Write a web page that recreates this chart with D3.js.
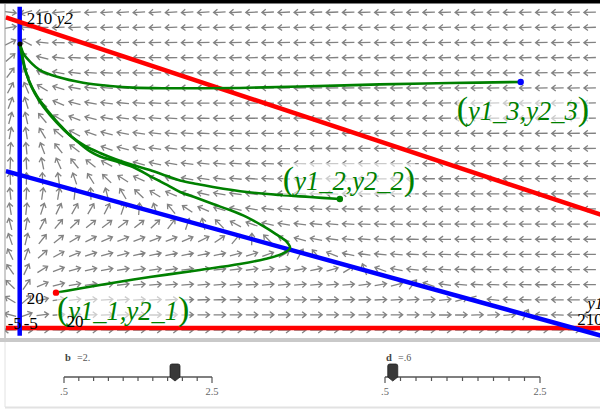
<!DOCTYPE html>
<html>
<head>
<meta charset="utf-8">
<script src="https://cdn.jsdelivr.net/npm/d3@7"></script>
<style>
body{margin:0;background:#fff;}
svg{display:block;}
</style>
</head>
<body>
<svg id="chart" width="600" height="410"></svg>
<script>
// slider values and model constants
const b = 2, d = 0.6;
const capacity1 = 200, capacity2 = 200;
const rateRatio = 0.18;
const windowX = [-5, 210], windowY = [-5, 210];
const sliderRange = [0.5, 2.5];
const sliderTicks = d3.range(0.5, 2.51, 0.2);

// trajectories [y1, y2], from the initial point to the last drawn point
const traj1 = [[13.1,23.1],[29.0,28.1],[47.0,33.3],[65.1,37.9],[79.5,41.8],[88.6,45.1],[94.7,48.4],[97.6,52.3],[96.1,56.9],[92.5,61.4],[87.8,66.7],[82.0,72.5],[75.9,77.1],[69.8,81.0],[64.0,85.0],[57.9,88.9],[53.2,93.5],[47.0,99.3],[40.9,105.2],[34.4,109.2],[29.0,112.1],[25.4,115.4],[21.0,121.6],[16.0,129.4],[10.9,139.2],[7.0,148.7],[4.1,158.2],[2.3,167.3],[1.1,176.5],[0.1,185.6]];
const traj2 = [[115.6,84.3],[104.8,85.6],[94.0,86.9],[82.0,88.9],[69.8,92.2],[64.0,94.1],[57.9,96.4],[53.2,99.3],[47.0,103.3],[40.9,106.5],[34.4,110.5],[29.0,114.4],[23.6,119.0],[18.9,124.8],[14.5,132.7],[10.2,141.8],[6.2,151.6],[3.4,161.4],[1.55,171.2],[0.7,179.7],[0.1,185.6]];
const traj3 = [[180.9,160.8],[155.3,160.1],[130.0,159.2],[101.2,157.8],[79.5,156.9],[65.1,156.7],[53.2,156.7],[40.9,157.1],[32.6,158.2],[22.9,160.3],[13.5,164.2],[7.3,168.6],[3.7,174.1],[1.3,179.5],[0.4,183.9],[0.1,185.6]];
const trajNames = ['1', '2', '3'];
const startColors = ['#ff0000', '#008000', '#0000ff'];

const svg = d3.select('#chart');
const x = d3.scaleLinear().domain(windowX).range([5.85, 601.3]);
const y = d3.scaleLinear().domain(windowY).range([335.65, 6.7]);

const plot = {left: 5, top: 4, right: 600, bottom: 338};

svg.append('defs').append('clipPath').attr('id', 'clip')
    .append('rect')
    .attr('x', plot.left).attr('y', plot.top)
    .attr('width', plot.right - plot.left).attr('height', plot.bottom - plot.top);

svg.append('rect').attr('width', 600).attr('height', 410).attr('fill', '#fff');

const g = svg.append('g').attr('clip-path', 'url(#clip)');

// ---- direction field
const f1 = (u, v) => u * (capacity1 - u - b * v) / capacity1;
const f2 = (u, v) => rateRatio * v * (capacity2 - v - d * u) / capacity2;

const colStart = x.invert(10.3), colStep = 16.1 / (x(1) - x(0));
const rowStart = y.invert(330), rowStep = 15.13 / (y(0) - y(1));
const grid = [];
for (let i = 0; i < 37; i++)
    for (let j = 0; j < 22; j++)
        grid.push([colStart + i * colStep, rowStart + j * rowStep]);

const arrowLen = 12, headLen = 5;
const xk = x(1) - x(0), yk = y(0) - y(1);
const arrowPath = ([u, v]) => {
    let dx = f1(u, v) * xk, dy = -f2(u, v) * yk;
    const m = Math.hypot(dx, dy) || 1;
    dx /= m; dy /= m;
    if (dx === 0 && dy === 0) dx = 1;
    const cx = x(u), cy = y(v);
    const tx = cx + dx * arrowLen / 2, ty = cy + dy * arrowLen / 2;
    const sx = cx - dx * arrowLen / 2, sy = cy - dy * arrowLen / 2;
    const a = Math.atan2(dy, dx), s = 0.65;
    const h1 = [tx - headLen * Math.cos(a - s), ty - headLen * Math.sin(a - s)];
    const h2 = [tx - headLen * Math.cos(a + s), ty - headLen * Math.sin(a + s)];
    return `M${sx},${sy}L${tx},${ty}M${h1}L${tx},${ty}L${h2}`;
};

g.append('g').attr('class', 'field')
    .selectAll('path')
    .data(grid)
    .join('path')
    .attr('d', arrowPath)
    .attr('fill', 'none')
    .attr('stroke', '#828282')
    .attr('stroke-width', 1.3);

// ---- nullclines
const line = d3.line().x(p => x(p[0])).y(p => y(p[1]));
const nullclines = [
    {pts: [[windowX[0], 0], [windowX[1], 0]], color: '#ff0000'},
    {pts: [[0, windowY[0]], [0, windowY[1]]], color: '#0000ff'},
    {pts: [[capacity1 - b * windowY[0], windowY[0]], [windowX[0], (capacity1 - windowX[0]) / b]], color: '#0000ff'},
    {pts: [[windowX[0], capacity2 - d * windowX[0]], [windowX[1], capacity2 - d * windowX[1]]], color: '#ff0000'}
];
g.append('g').selectAll('path')
    .data(nullclines)
    .join('path')
    .attr('d', n => line(n.pts))
    .attr('stroke', n => n.color)
    .attr('stroke-width', 4.5)
    .attr('fill', 'none');

// ---- trajectories
const curve = d3.line().x(p => x(p[0])).y(p => y(p[1])).curve(d3.curveCatmullRom.alpha(0.5));
const trajectories = [traj1, traj2, traj3];
g.append('g').selectAll('path')
    .data(trajectories)
    .join('path')
    .attr('d', curve)
    .attr('fill', 'none')
    .attr('stroke', '#008000')
    .attr('stroke-width', 2.6);

// ---- labels at the initial points
const labelOffsets = [[1, 27], [-57, -9], [-64, 38]];
const labels = g.append('g');
trajectories.forEach((t, i) => {
    const [u, v] = t[0], n = trajNames[i];
    const lg = labels.append('g');
    const txt = lg.append('text')
        .attr('x', x(u) + labelOffsets[i][0])
        .attr('y', y(v) + labelOffsets[i][1])
        .attr('fill', '#008000')
        .attr('font-family', '"Liberation Serif", "DejaVu Serif", serif');
    txt.append('tspan').attr('font-size', 34).text('(');
    txt.append('tspan').attr('font-size', 26.5).attr('font-style', 'italic').text(`y1_${n},y2_${n}`);
    txt.append('tspan').attr('font-size', 34).text(')');
    const bb = txt.node().getBBox();
    lg.insert('rect', 'text')
        .attr('x', bb.x).attr('y', bb.y + 3)
        .attr('width', bb.width).attr('height', bb.height - 6)
        .attr('fill', '#fff').attr('opacity', 0.6);
});

// ---- points
g.append('g').selectAll('circle')
    .data(trajectories)
    .join('circle')
    .attr('cx', t => x(t[0][0])).attr('cy', t => y(t[0][1]))
    .attr('r', 3.2)
    .attr('fill', (t, i) => startColors[i]);
g.append('circle')
    .attr('cx', x(traj1[traj1.length - 1][0])).attr('cy', y(traj1[traj1.length - 1][1]))
    .attr('r', 2.5).attr('fill', '#000');

// ---- axis end labels
const serif = '"Liberation Serif", "DejaVu Serif", serif';
const axisText = [
    {t: '210', x: x(0) + 7, y: y(windowY[1]) + 17, a: 'start'},
    {t: 'y2', x: x(0) + 37, y: y(windowY[1]) + 17, a: 'start', i: true},
    {t: '20', x: x(0) + 24, y: y(20) + 7, a: 'end'},
    {t: '20', x: x(20), y: y(0) - 1, a: 'middle'},
    {t: '-5', x: x(0) - 12, y: y(0) + 1, a: 'start'},
    {t: '-5', x: x(0) + 4, y: y(0) + 1, a: 'start'},
    {t: 'y1', x: x(windowX[1]) - 14, y: y(0) - 19, a: 'start', i: true},
    {t: '210', x: x(windowX[1]) - 24, y: y(0) - 3, a: 'start'}
];
svg.append('g').selectAll('text')
    .data(axisText)
    .join('text')
    .attr('x', a => a.x).attr('y', a => a.y)
    .attr('text-anchor', a => a.a)
    .attr('font-style', a => a.i ? 'italic' : null)
    .attr('font-family', serif)
    .attr('font-size', 17)
    .attr('fill', '#000')
    .text(a => a.t);

// ---- frame
svg.append('rect').attr('x', 0).attr('y', 0).attr('width', 600).attr('height', 3.5).attr('fill', '#000');
svg.append('line').attr('x1', plot.left).attr('x2', plot.left).attr('y1', plot.top).attr('y2', plot.bottom)
    .attr('stroke', '#9a9a9a').attr('stroke-width', 1);
svg.append('rect').attr('x', 0).attr('y', plot.bottom).attr('width', 600).attr('height', 4).attr('fill', '#c9c9c9');
svg.append('rect').attr('x', 0).attr('y', 342).attr('width', 600).attr('height', 68).attr('fill', '#fff');
svg.append('line').attr('x1', plot.left).attr('x2', plot.left).attr('y1', 342).attr('y2', 407)
    .attr('stroke', '#e2e2e2');
svg.append('rect').attr('x', plot.left).attr('y', 406.5).attr('width', 595).attr('height', 2).attr('fill', '#e2e2e2');

// ---- sliders
const sliders = [
    {name: 'b', value: b, text: '=2.', range: [64, 212]},
    {name: 'd', value: d, text: '=.6', range: [385, 540]}
];
sliders.forEach(s => {
    const sx = d3.scaleLinear().domain(sliderRange).range(s.range);
    const sg = svg.append('g').attr('font-family', serif).attr('fill', '#555');
    const ty = 377;
    sg.append('text').attr('x', sx(sliderRange[0]) + 1).attr('y', 361)
        .attr('font-size', 10.5).attr('font-weight', 'bold').attr('fill', '#444').text(s.name);
    sg.append('text').attr('x', sx(sliderRange[0]) + 13).attr('y', 361)
        .attr('font-size', 10).attr('fill', '#555').text(s.text);
    sg.append('line').attr('x1', s.range[0]).attr('x2', s.range[1]).attr('y1', ty).attr('y2', ty)
        .attr('stroke', '#555').attr('stroke-width', 1.5);
    sg.selectAll('line.tick')
        .data(sliderTicks)
        .join('line')
        .attr('class', 'tick')
        .attr('x1', t => sx(t)).attr('x2', t => sx(t))
        .attr('y1', ty).attr('y2', (t, i) => (i === 0 || i === sliderTicks.length - 1) ? ty + 6 : ty + 4)
        .attr('stroke', '#555').attr('stroke-width', 1.2);
    sg.selectAll('text.end')
        .data(sliderRange)
        .join('text')
        .attr('class', 'end')
        .attr('x', v => sx(v)).attr('y', 395)
        .attr('text-anchor', 'middle')
        .attr('font-size', 10.5)
        .attr('fill', '#666')
        .text(v => String(v).replace(/^0/, ''));
    const cx = sx(s.value);
    sg.append('path')
        .attr('d', `M${cx - 5},${366}Q${cx - 5},${364} ${cx - 3},${364}L${cx + 3},${364}Q${cx + 5},${364} ${cx + 5},${366}L${cx + 5},${377}L${cx},${381}L${cx - 5},${377}Z`)
        .attr('fill', '#383838').attr('stroke', '#222').attr('stroke-width', 0.8);
});
</script>
</body>
</html>
